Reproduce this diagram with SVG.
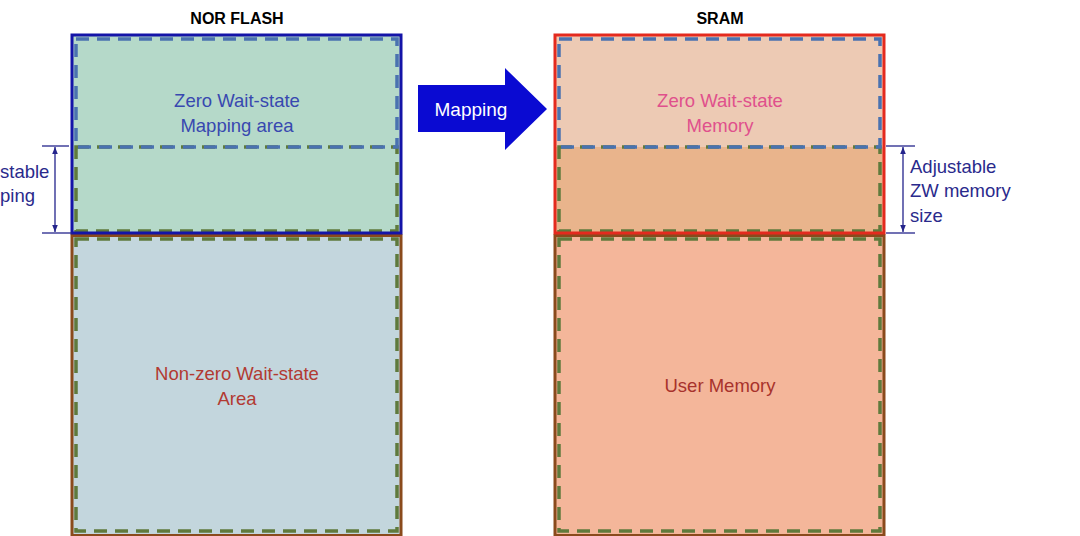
<svg xmlns="http://www.w3.org/2000/svg" width="1080" height="536" viewBox="0 0 1080 536">
<defs>
<style>
.t{font-family:"Liberation Sans",Arial,sans-serif;font-size:18.5px;text-anchor:middle}
.title{font-family:"Liberation Sans",Arial,sans-serif;font-size:16px;font-weight:bold;text-anchor:middle;fill:#000}
.dimt{font-family:"Liberation Sans",Arial,sans-serif;font-size:18.5px;fill:#2a2a8c}
.dashB{fill:none;stroke:#4a72b0;stroke-width:3.5;stroke-dasharray:13 8}
.dashG{fill:none;stroke:#5f7a3c;stroke-width:3.5;stroke-dasharray:13 8}
.brown{fill:none;stroke:#8a4a1c;stroke-width:3}
.dim{stroke:#24248c;stroke-width:1.3;fill:none}
</style>
<marker id="ah" viewBox="0 0 10 10" refX="10" refY="5" markerWidth="7" markerHeight="7" orient="auto-start-reverse" markerUnits="userSpaceOnUse">
<path d="M0,1 L10,5 L0,9 Z" fill="#24248c"/>
</marker>
</defs>
<rect width="1080" height="536" fill="#ffffff"/>

<g id="nor-flash-title"><text class="title" x="237" y="24">NOR FLASH</text></g>
<g id="sram-title"><text class="title" x="720" y="24">SRAM</text></g>

<g id="nor-nonzero">
<rect x="72" y="235" width="329" height="302" fill="#c3d6dd"/>
<rect class="brown" x="72" y="235.5" width="329" height="300"/>
<rect class="dashG" x="76" y="239" width="321" height="292"/>
<text class="t" x="237" y="380" fill="#b23a32">Non-zero Wait-state</text>
<text class="t" x="237" y="405" fill="#b23a32">Area</text>
</g>

<g id="nor-zw">
<rect x="72" y="35" width="329" height="198" fill="#b5d9c9"/>
<rect class="dashG" x="76" y="147" width="321" height="84"/>
<rect class="dashB" x="76" y="39" width="321" height="108"/>
<rect x="72" y="35" width="329" height="198" fill="none" stroke="#1414a8" stroke-width="3"/>
<text class="t" x="237" y="107" fill="#3848b0">Zero Wait-state</text>
<text class="t" x="237" y="132" fill="#3848b0">Mapping area</text>
</g>

<g id="sram-user">
<rect x="555" y="235" width="329" height="302" fill="#f4b69a"/>
<rect class="brown" x="555" y="235.5" width="329" height="300"/>
<rect class="dashG" x="559" y="239" width="321" height="292"/>
<text class="t" x="720" y="392" fill="#a8322c">User Memory</text>
</g>

<g id="sram-zw">
<rect x="555" y="35" width="329" height="112" fill="#edcab4"/>
<rect x="555" y="147" width="329" height="86" fill="#e9b48c"/>
<rect class="dashG" x="559" y="147" width="321" height="84"/>
<rect class="dashB" x="559" y="39" width="321" height="108"/>
<rect x="555" y="35" width="329" height="198" fill="none" stroke="#e42a1e" stroke-width="3"/>
<text class="t" x="720" y="107" fill="#e0508c">Zero Wait-state</text>
<text class="t" x="720" y="132" fill="#e0508c">Memory</text>
</g>

<g id="left-dim-label">
<text class="dimt" x="0" y="178">stable</text>
<text class="dimt" x="0" y="202">ping</text>
</g>
<g id="right-dim-label">
<text class="dimt" x="910" y="173">Adjustable</text>
<text class="dimt" x="910" y="197">ZW memory</text>
<text class="dimt" x="910" y="222">size</text>
</g>

<g id="connectors">
<g id="mapping-arrow">
<path d="M418,85 L505,85 L505,68 L547,109 L505,150 L505,132 L418,132 Z" fill="#0a0ad2"/>
<text x="471" y="116" font-family="'Liberation Sans',Arial,sans-serif" font-size="19" fill="#ffffff" text-anchor="middle">Mapping</text>
</g>
<line class="dim" x1="42" y1="146" x2="69" y2="146"/>
<line class="dim" x1="42" y1="233" x2="72" y2="233"/>
<line class="dim" x1="55" y1="147" x2="55" y2="232" marker-start="url(#ah)" marker-end="url(#ah)"/>
<line class="dim" x1="886" y1="146" x2="915" y2="146"/>
<line class="dim" x1="886" y1="233" x2="915" y2="233"/>
<line class="dim" x1="903" y1="147" x2="903" y2="232" marker-start="url(#ah)" marker-end="url(#ah)"/>
</g>
</svg>
